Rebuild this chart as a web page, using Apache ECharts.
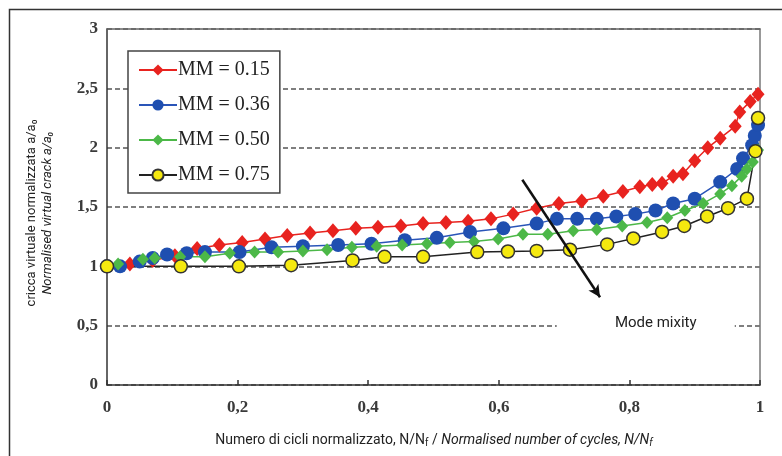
<!DOCTYPE html>
<html>
<head>
<meta charset="utf-8">
<script src="https://cdn.jsdelivr.net/npm/echarts@6/dist/echarts.min.js"></script>
<style>
  html, body { margin: 0; padding: 0; background: #fff; }
  #chart { width: 782px; height: 456px; }
</style>
</head>
<body>
<div id="chart"></div>
<script>
// MM = 0.15
const redX = [0, 0.035, 0.07, 0.104, 0.138, 0.172, 0.207, 0.242, 0.276, 0.311, 0.346, 0.381, 0.415, 0.45, 0.484, 0.519, 0.553, 0.588, 0.622, 0.658, 0.692, 0.727, 0.76, 0.79, 0.816, 0.835, 0.85, 0.867, 0.882, 0.9, 0.92, 0.939, 0.962, 0.969, 0.985, 0.997];
const redY = [1.0, 1.02, 1.05, 1.09, 1.15, 1.18, 1.2, 1.23, 1.26, 1.28, 1.3, 1.32, 1.33, 1.34, 1.36, 1.37, 1.38, 1.4, 1.44, 1.49, 1.53, 1.55, 1.59, 1.63, 1.67, 1.69, 1.7, 1.76, 1.78, 1.89, 2.0, 2.08, 2.18, 2.3, 2.39, 2.45];
// MM = 0.36
const blueX = [0, 0.02, 0.05, 0.07, 0.092, 0.122, 0.15, 0.203, 0.252, 0.3, 0.354, 0.405, 0.456, 0.505, 0.556, 0.607, 0.658, 0.689, 0.72, 0.75, 0.78, 0.809, 0.84, 0.867, 0.9, 0.939, 0.965, 0.974, 0.988, 0.992, 0.997];
const blueY = [1.0, 1.0, 1.04, 1.07, 1.1, 1.11, 1.12, 1.12, 1.16, 1.17, 1.18, 1.19, 1.22, 1.24, 1.29, 1.32, 1.36, 1.4, 1.4, 1.4, 1.42, 1.44, 1.47, 1.53, 1.57, 1.71, 1.82, 1.91, 2.02, 2.1, 2.19];
// MM = 0.50
const greenX = [0, 0.017, 0.055, 0.073, 0.112, 0.15, 0.188, 0.226, 0.262, 0.3, 0.337, 0.375, 0.413, 0.452, 0.49, 0.525, 0.562, 0.599, 0.637, 0.675, 0.714, 0.75, 0.789, 0.827, 0.858, 0.885, 0.913, 0.939, 0.957, 0.972, 0.98, 0.989, 0.997];
const greenY = [1.0, 1.02, 1.06, 1.07, 1.08, 1.08, 1.11, 1.12, 1.12, 1.13, 1.14, 1.16, 1.17, 1.18, 1.19, 1.2, 1.21, 1.23, 1.27, 1.27, 1.3, 1.31, 1.34, 1.37, 1.41, 1.47, 1.53, 1.61, 1.68, 1.76, 1.82, 1.88, 1.98];
// MM = 0.75
const yellowX = [0, 0.113, 0.202, 0.282, 0.376, 0.425, 0.484, 0.567, 0.614, 0.658, 0.709, 0.766, 0.806, 0.85, 0.884, 0.919, 0.951, 0.98, 0.993, 0.997];
const yellowY = [1.0, 1.0, 1.0, 1.01, 1.05, 1.08, 1.08, 1.12, 1.125, 1.13, 1.14, 1.185, 1.235, 1.29, 1.34, 1.42, 1.49, 1.57, 1.97, 2.25];

const seriesNames = ["MM = 0.15", "MM = 0.36", "MM = 0.50", "MM = 0.75"];
const xTicks = ["0", "0,2", "0,4", "0,6", "0,8", "1"];

// arrow and note, in data coordinates
const arrowFrom = [0.636, 1.73];
const arrowTo = [0.755, 0.74];
const noteAt = [0.825, 0.52];
const noteText = "Mode mixity";

function pairs(xs, ys) {
  return xs.map((x, i) => [x, ys[i]]);
}

const chart = echarts.init(document.getElementById("chart"));

const serif = "Liberation Serif, DejaVu Serif, serif";
const narrow = "Liberation Sans Narrow, Roboto, sans-serif";

chart.setOption({
  animation: false,
  backgroundColor: "#fff",
  grid: { left: 107, right: 22, top: 29, bottom: 71, show: false },
  legend: {
    orient: "vertical",
    left: 128,
    top: 51,
    data: seriesNames,
    itemWidth: 38,
    itemHeight: 14,
    itemGap: 15,
    padding: [9, 10, 8, 10],
    backgroundColor: "#fff",
    borderColor: "#444",
    borderWidth: 1.5,
    borderRadius: 0,
    textStyle: { fontFamily: serif, fontSize: 20, color: "#222", padding: [0, 0, 0, -4] },
  },
  xAxis: [
    {
      type: "value",
      min: 0,
      max: 1,
      interval: 0.2,
      axisLine: { show: true, lineStyle: { color: "#333", width: 1.5 } },
      axisTick: { show: true, inside: true, length: 5, lineStyle: { color: "#333", width: 1.5 } },
      splitLine: { show: false },
      axisLabel: {
        margin: 14,
        fontFamily: serif,
        fontSize: 17,
        fontWeight: "bold",
        color: "#3a3a3a",
        formatter: (v) => xTicks[Math.round(v / 0.2)],
      },
    },
    {
      type: "value",
      position: "top",
      min: 0,
      max: 1,
      axisLine: { show: true, onZero: false, lineStyle: { color: "#666", width: 1.5 } },
      axisTick: { show: false },
      axisLabel: { show: false },
      splitLine: { show: false },
    },
  ],
  yAxis: [
    {
      type: "value",
      min: 0,
      max: 3,
      interval: 0.5,
      axisLine: { show: true, lineStyle: { color: "#333", width: 1.5 } },
      axisTick: { show: false },
      splitLine: { show: true, lineStyle: { color: "#555", width: 1.5, type: [5, 3] } },
      axisLabel: {
        margin: 9,
        fontFamily: serif,
        fontSize: 17,
        fontWeight: "bold",
        color: "#3a3a3a",
        formatter: (v) => String(v).replace(".", ","),
      },
    },
    {
      type: "value",
      position: "right",
      min: 0,
      max: 3,
      axisLine: { show: true, onZero: false, lineStyle: { color: "#777", width: 1.5 } },
      axisTick: { show: false },
      axisLabel: { show: false },
      splitLine: { show: false },
    },
  ],
  series: [
    {
      name: seriesNames[0],
      type: "line",
      data: pairs(redX, redY),
      symbol: "diamond",
      symbolSize: [13, 15],
      lineStyle: { color: "#e8231f", width: 1.5 },
      itemStyle: { color: "#e8231f" },
    },
    {
      name: seriesNames[1],
      type: "line",
      data: pairs(blueX, blueY),
      symbol: "circle",
      symbolSize: 14,
      lineStyle: { color: "#2a55b8", width: 1.5 },
      itemStyle: { color: "#1f4fb0" },
    },
    {
      name: seriesNames[2],
      type: "line",
      data: pairs(greenX, greenY),
      symbol: "diamond",
      symbolSize: [12, 13],
      lineStyle: { color: "#4cb848", width: 1.5 },
      itemStyle: { color: "#4cb848" },
      markPoint: {
        silent: true,
        data: [
          {
            coord: noteAt,
            symbol: "rect",
            symbolSize: [178, 44],
            itemStyle: { color: "#fff" },
            label: {
              show: true,
              position: "inside",
              offset: [10, 0],
              formatter: noteText,
              fontFamily: narrow,
              fontSize: 15,
              color: "#222",
            },
          },
        ],
      },
    },
    {
      name: seriesNames[3],
      type: "line",
      data: pairs(yellowX, yellowY),
      symbol: "circle",
      symbolSize: 13,
      lineStyle: { color: "#222", width: 1.5 },
      itemStyle: { color: "#f5e90f", borderColor: "#333", borderWidth: 1.5 },
      markLine: {
        silent: true,
        symbol: ["none", "arrow"],
        symbolSize: [9, 12],
        label: { show: false },
        lineStyle: { color: "#111", width: 2.5, type: "solid" },
        data: [[{ coord: arrowFrom }, { coord: arrowTo }]],
      },
    },
  ],
  graphic: [
    {
      type: "rect",
      left: 7,
      top: 7,
      shape: { width: 774, height: 448 },
      style: { fill: "none", stroke: "#333", lineWidth: 1.5 },
      silent: true,
      z: -1,
    },
    {
      type: "text",
      x: 40,
      y: 213,
      rotation: Math.PI / 2,
      style: {
        text: "cricca virtuale normalizzata a/a₀\n{i|Normalised virtual crack a/a₀}",
        align: "center",
        verticalAlign: "middle",
        fontFamily: narrow,
        fontSize: 13,
        lineHeight: 16,
        fill: "#222",
        rich: { i: { fontStyle: "italic", fontFamily: narrow, fontSize: 13, lineHeight: 16 } },
      },
    },
    {
      type: "text",
      x: 434,
      y: 440,
      style: {
        text: "Numero di cicli normalizzato, N/N{s|f} / {i|Normalised number of cycles, N/N}{is|f}",
        align: "center",
        verticalAlign: "middle",
        fontFamily: narrow,
        fontSize: 14,
        fill: "#222",
        rich: {
          i: { fontStyle: "italic", fontFamily: narrow, fontSize: 14 },
          s: { fontFamily: narrow, fontSize: 10, padding: [6, 0, 0, 0] },
          is: { fontStyle: "italic", fontFamily: narrow, fontSize: 10, padding: [6, 0, 0, 0] },
        },
      },
    },
  ],
});
</script>
</body>
</html>
